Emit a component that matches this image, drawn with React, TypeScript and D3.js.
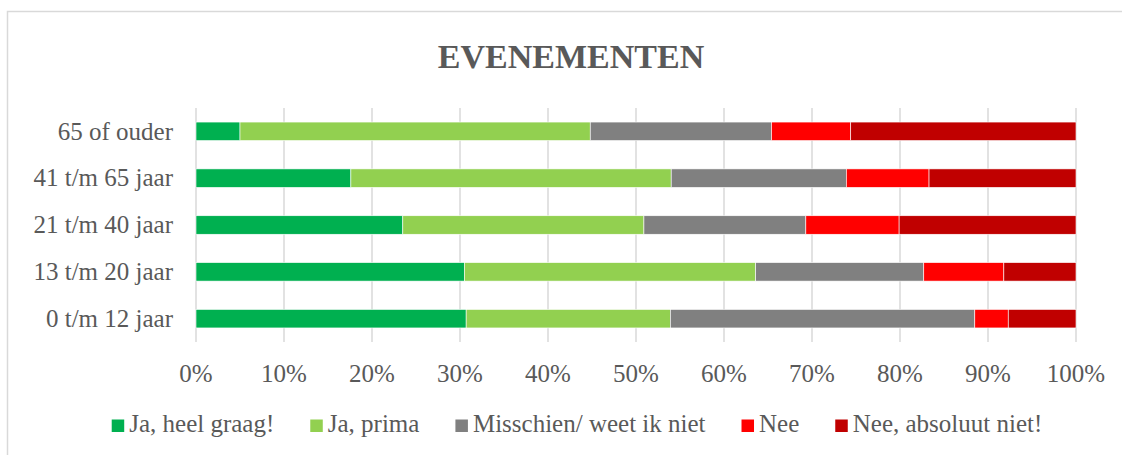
import React, { useRef, useEffect } from 'react';
import * as d3 from 'd3';

// age groups, top to bottom as shown
const categories = ['65 of ouder', '41 t/m 65 jaar', '21 t/m 40 jaar', '13 t/m 20 jaar', '0 t/m 12 jaar'];

const seriesNames = ['Ja, heel graag!', 'Ja, prima', 'Misschien/ weet ik niet', 'Nee', 'Nee, absoluut niet!'];
const seriesColors = ['#00B050', '#92D050', '#808080', '#FF0000', '#C00000'];

// percentages per answer, same order as categories
const jaHeelGraag = [5.0, 17.6, 23.5, 30.5, 30.7];
const jaPrima = [39.8, 36.4, 27.4, 33.1, 23.2];
const misschien = [20.6, 19.9, 18.4, 19.1, 34.6];
const nee = [9.0, 9.4, 10.6, 9.1, 3.8];
const neeAbsoluut = [25.6, 16.7, 20.1, 8.2, 7.7];

const xTicks = [0, 0.1, 0.2, 0.3, 0.4, 0.5, 0.6, 0.7, 0.8, 0.9, 1];

const TEXT = '#595959';
const FONT = '"Liberation Serif", "Times New Roman", serif';

const App = () => {
  const svgRef = useRef<SVGSVGElement>(null);

  useEffect(() => {
    const width = 1122;
    const height = 455;
    const marginLeft = 196;
    const marginRight = 46;
    const plotTop = 108;
    const plotBottom = 342;

    const svg = d3.select(svgRef.current);
    svg.selectAll('*').remove();

    // chart frame (runs off the right and bottom edge in the original)
    svg.append('rect')
      .attr('x', 7.5).attr('y', 11.5)
      .attr('width', width + 20).attr('height', height + 20)
      .attr('fill', '#fff')
      .attr('stroke', '#D9D9D9')
      .attr('stroke-width', 1.5);

    // title
    svg.append('text')
      .attr('x', 571).attr('y', 68)
      .attr('text-anchor', 'middle')
      .style('font-family', FONT)
      .style('font-weight', 'bold')
      .style('font-size', '34px')
      .style('fill', TEXT)
      .text('EVENEMENTEN');

    // build rows of proportions
    const all = [jaHeelGraag, jaPrima, misschien, nee, neeAbsoluut];
    const rows = categories.map((c, i) => {
      const row: any = { category: c };
      const total = d3.sum(all, s => s[i]);
      seriesNames.forEach((name, k) => { row[name] = all[k][i] / total; });
      return row;
    });
    const stacked = d3.stack().keys(seriesNames)(rows);

    const x = d3.scaleLinear().domain([0, 1]).range([marginLeft, width - marginRight]);
    const y = d3.scaleBand()
      .domain(categories)
      .range([plotTop, plotBottom])
      .paddingInner(0.605)
      .paddingOuter(0.3);

    // gridlines
    svg.append('g')
      .selectAll('line')
      .data(xTicks)
      .join('line')
      .attr('x1', d => x(d)).attr('x2', d => x(d))
      .attr('y1', plotTop).attr('y2', plotBottom)
      .attr('stroke', '#D9D9D9')
      .attr('stroke-width', 1.5);

    // bars
    svg.append('g')
      .selectAll('g')
      .data(stacked)
      .join('g')
      .attr('fill', (d, i) => seriesColors[i])
      .selectAll('rect')
      .data(d => d)
      .join('rect')
      .attr('x', d => x(d[0]))
      .attr('y', d => y(d.data.category))
      .attr('width', d => x(d[1]) - x(d[0]))
      .attr('height', y.bandwidth())
      .attr('stroke', '#fff')
      .attr('stroke-width', 0.6);

    // category labels
    svg.append('g')
      .selectAll('text')
      .data(categories)
      .join('text')
      .attr('x', marginLeft - 23)
      .attr('y', d => y(d) + y.bandwidth() / 2)
      .attr('dy', '0.33em')
      .attr('text-anchor', 'end')
      .style('font-family', FONT)
      .style('font-size', '25px')
      .style('fill', TEXT)
      .text(d => d);

    // x tick labels
    const fmt = d3.format('.0%');
    svg.append('g')
      .selectAll('text')
      .data(xTicks)
      .join('text')
      .attr('x', d => x(d))
      .attr('y', 382)
      .attr('text-anchor', 'middle')
      .style('font-family', FONT)
      .style('font-size', '25px')
      .style('fill', TEXT)
      .text(d => fmt(d));

    // legend
    const legend = svg.append('g');
    const items = legend.selectAll('g')
      .data(seriesNames)
      .join('g');
    items.append('rect')
      .attr('width', 12.5).attr('height', 12.5)
      .attr('y', 419.5)
      .attr('fill', (d, i) => seriesColors[i]);
    items.append('text')
      .attr('x', 17.5)
      .attr('y', 432)
      .style('font-family', FONT)
      .style('font-size', '25px')
      .style('fill', TEXT)
      .text(d => d);

    const gap = 36;
    let offset = 0;
    const widths: number[] = [];
    items.each(function () {
      const t = d3.select(this).select('text').node() as SVGTextElement;
      widths.push(17.5 + t.getComputedTextLength());
    });
    const total = d3.sum(widths) + gap * (widths.length - 1);
    const start = 577 - total / 2;
    items.attr('transform', (d, i) => {
      const tx = start + offset;
      offset += widths[i] + gap;
      return `translate(${tx},0)`;
    });
  }, []);

  return (
    <svg
      ref={svgRef}
      width={1122}
      height={455}
      style={{ position: 'absolute', left: 0, top: 0, background: '#fff' }}
    />
  );
};

export default App;
